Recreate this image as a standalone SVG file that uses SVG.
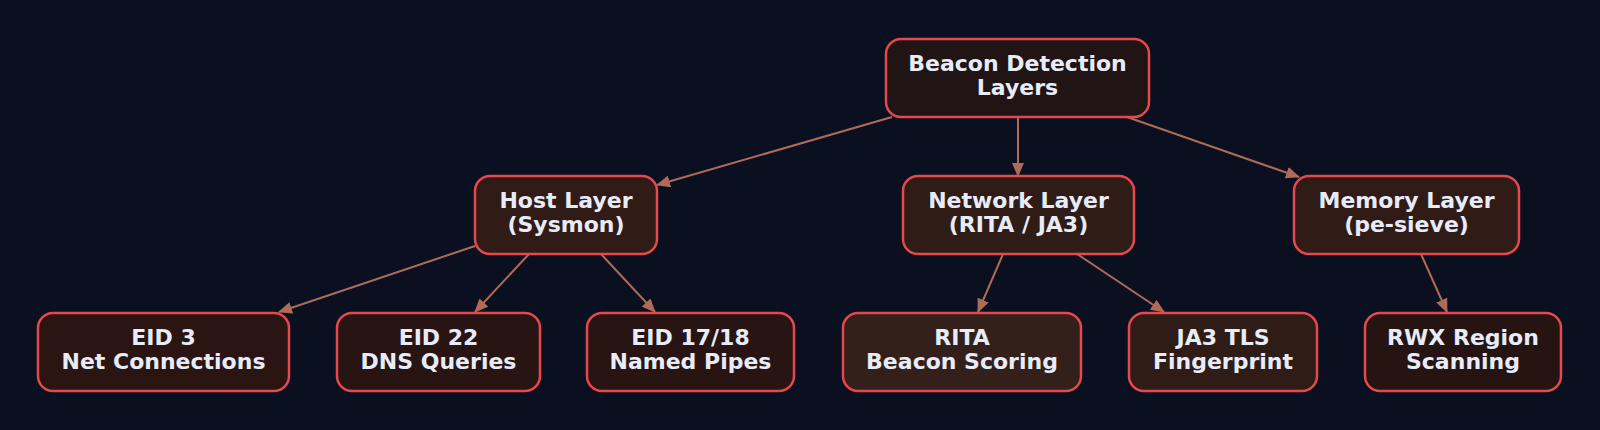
<svg xmlns="http://www.w3.org/2000/svg" width="1600" height="430" viewBox="0 0 1600 430">
<style>
.bg{fill:#0b1020}
.n rect{stroke:#e5484d;stroke-width:2.5}
.n text{font-family:"DejaVu Sans",sans-serif;font-weight:bold;font-size:22px;fill:#e8ecf8;text-anchor:middle}
.e path{fill:none;stroke:#b06a58;stroke-width:2}
</style>
<defs>
<marker id="ah" markerUnits="userSpaceOnUse" markerWidth="14" markerHeight="12" refX="13" refY="6" orient="auto">
<path d="M0,0 L14,6 L0,12 Z" fill="#b06a58"/>
</marker>
</defs>
<rect class="bg" x="0" y="0" width="1600" height="430"/>
<g id="connectors" class="e">
<path d="M892,117 L657,185" marker-end="url(#ah)"/>
<path d="M1018,117 L1018,176" marker-end="url(#ah)"/>
<path d="M1127,117 L1299,177" marker-end="url(#ah)"/>
<path d="M475,246 L279,312" marker-end="url(#ah)"/>
<path d="M529,254 L475,312" marker-end="url(#ah)"/>
<path d="M601,254 L655,312" marker-end="url(#ah)"/>
<path d="M1003,254 L978,312" marker-end="url(#ah)"/>
<path d="M1077,254 L1164,312" marker-end="url(#ah)"/>
<path d="M1421,254 L1447,312" marker-end="url(#ah)"/>
</g>
<g id="root" class="n"><rect x="886" y="39" width="263" height="78" rx="15" fill="#201414"/><text x="1017.5" y="71">Beacon Detection</text><text x="1017.5" y="95">Layers</text></g>
<g id="host" class="n"><rect x="475" y="176" width="182" height="78" rx="15" fill="#301b16"/><text x="566" y="208">Host Layer</text><text x="566" y="232">(Sysmon)</text></g>
<g id="network" class="n"><rect x="903" y="176" width="231" height="78" rx="15" fill="#2f1c17"/><text x="1018.5" y="208">Network Layer</text><text x="1018.5" y="232">(RITA / JA3)</text></g>
<g id="memory" class="n"><rect x="1294" y="176" width="225" height="78" rx="15" fill="#301b16"/><text x="1406.5" y="208">Memory Layer</text><text x="1406.5" y="232">(pe-sieve)</text></g>
<g id="eid3" class="n"><rect x="38" y="313" width="251" height="78" rx="15" fill="#2a1512"/><text x="163.5" y="345">EID 3</text><text x="163.5" y="369">Net Connections</text></g>
<g id="eid22" class="n"><rect x="337" y="313" width="203" height="78" rx="15" fill="#281412"/><text x="438.5" y="345">EID 22</text><text x="438.5" y="369">DNS Queries</text></g>
<g id="eid1718" class="n"><rect x="587" y="313" width="207" height="78" rx="15" fill="#281412"/><text x="690.5" y="345">EID 17/18</text><text x="690.5" y="369">Named Pipes</text></g>
<g id="rita" class="n"><rect x="843" y="313" width="238" height="78" rx="15" fill="#33201a"/><text x="962" y="345">RITA</text><text x="962" y="369">Beacon Scoring</text></g>
<g id="ja3" class="n"><rect x="1129" y="313" width="188" height="78" rx="15" fill="#2f1c17"/><text x="1223" y="345">JA3 TLS</text><text x="1223" y="369">Fingerprint</text></g>
<g id="rwx" class="n"><rect x="1365" y="313" width="196" height="78" rx="15" fill="#261413"/><text x="1463" y="345">RWX Region</text><text x="1463" y="369">Scanning</text></g>
</svg>
